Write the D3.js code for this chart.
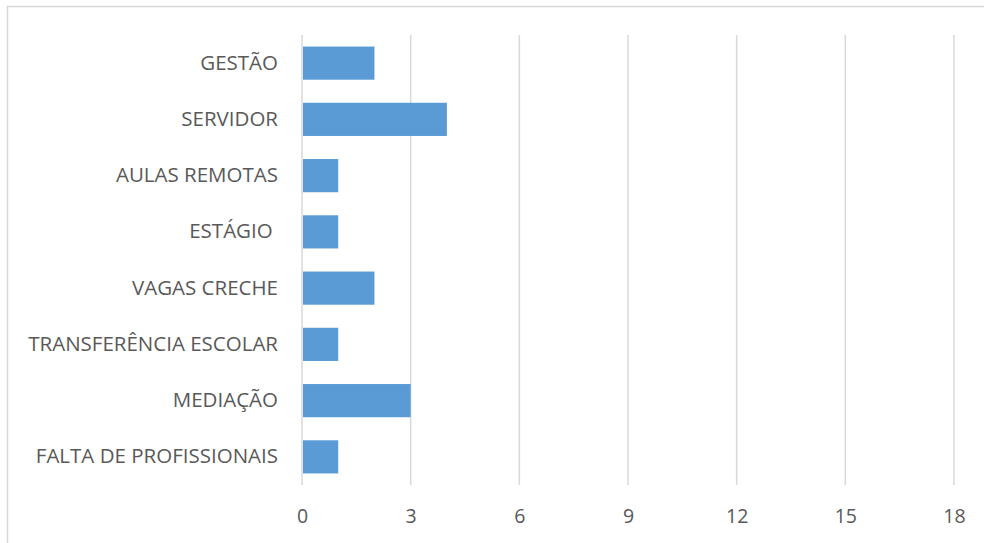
<!DOCTYPE html>
<html><head><meta charset="utf-8">
<script src="https://cdn.jsdelivr.net/npm/d3@7"></script>
<style>body{margin:0;background:#fff}text{font-family:"Open Sans",sans-serif;white-space:pre}</style>
</head><body><svg id="c" width="984" height="543"></svg>
<script>
const categories = ["GESTÃO","SERVIDOR","AULAS REMOTAS","ESTÁGIO ","VAGAS CRECHE","TRANSFERÊNCIA ESCOLAR","MEDIAÇÃO","FALTA DE PROFISSIONAIS"];
const values = [2,4,1,1,2,1,3,1];
const tickValues = [0,3,6,9,12,15,18];

const svg = d3.select("#c");
svg.append("rect").attr("x",7.5).attr("y",6.5).attr("width",1000).attr("height",600)
  .attr("fill","#fff").attr("stroke","#d9d9d9").attr("stroke-width",1.5);

const x = d3.scaleLinear().domain([0,18]).range([302,954]);
const y = d3.scaleBand().domain(categories).range([35,485]).paddingInner(0.41).paddingOuter(0.205);

svg.append("g").selectAll("line").data(tickValues).join("line")
  .attr("x1",d=>x(d)).attr("x2",d=>x(d)).attr("y1",35).attr("y2",485)
  .attr("stroke","#d9d9d9").attr("stroke-width",1.5);

svg.append("g").selectAll("rect").data(values).join("rect")
  .attr("x",x(0)+1).attr("y",(d,i)=>y(categories[i]))
  .attr("width",d=>x(d)-x(0)-1).attr("height",y.bandwidth())
  .attr("fill","#5b9bd5");

const xAxis = d3.axisBottom(x).tickValues(tickValues).tickSize(0).tickPadding(0);
const gx = svg.append("g").attr("transform","translate(0,523)").call(xAxis);
gx.select(".domain").remove();
gx.selectAll("text").attr("fill","#595959").attr("font-size",19.5).attr("dy",0).attr("y",0);

const yAxis = d3.axisLeft(y).tickSize(0).tickPadding(24);
const gy = svg.append("g").attr("transform",`translate(${x(0)},0)`).call(yAxis);
gy.select(".domain").remove();
gy.selectAll("text").attr("fill","#595959").attr("font-size",20.5);
</script></body></html>
